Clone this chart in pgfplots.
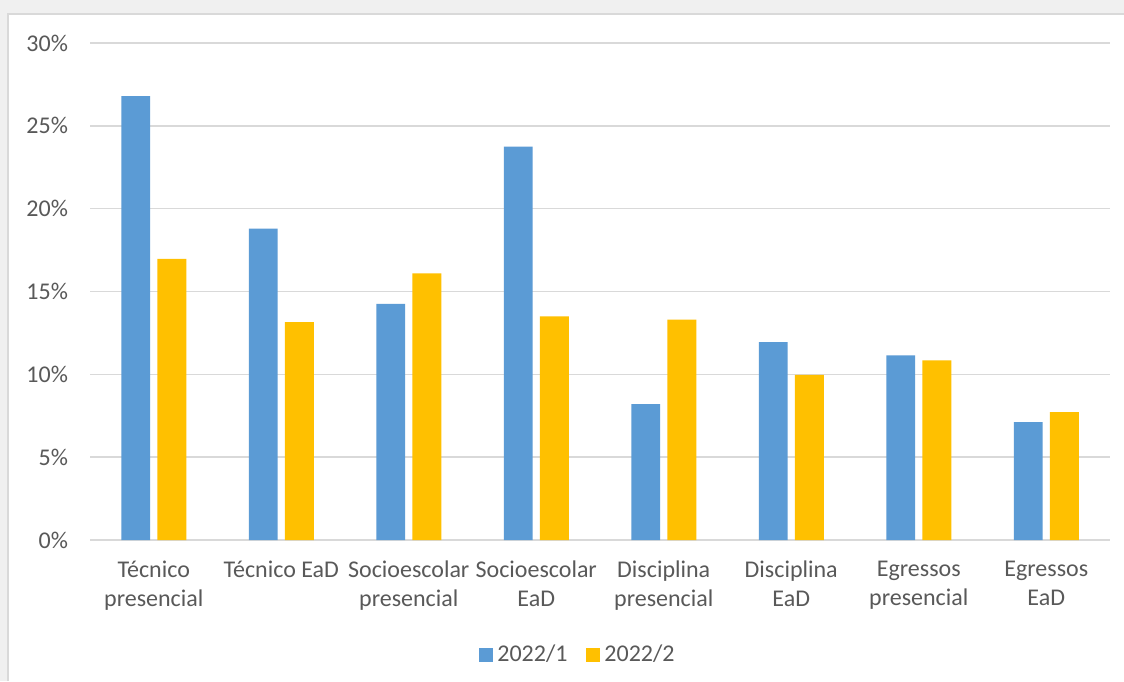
\documentclass[border=0pt]{standalone}
\usepackage{fontspec}
\setmainfont{Carlito}
\usepackage{pgfplots}
\pgfplotsset{compat=1.18}
\definecolor{bblue}{HTML}{5B9BD5}
\definecolor{byel}{HTML}{FFC000}
\definecolor{txt}{HTML}{595959}
\definecolor{gridc}{HTML}{D9D9D9}
\definecolor{bg}{HTML}{F0F0F0}
\begin{document}
\begin{tikzpicture}[x=1pt,y=1pt]
\useasboundingbox (0,0) rectangle (562,340.5);
\fill[bg] (0,0) rectangle (562,340.5);
\fill[white] (4,0) rectangle (562,333.5);
\draw[gridc, line width=0.6pt] (4,0) -- (4,333.5) -- (562,333.5);
\begin{axis}[
  at={(45pt,70.5pt)}, anchor=south west,
  width=510pt, height=248.5pt, scale only axis,
  xmin=-0.5, xmax=7.5, ymin=0, ymax=30,
  ybar=3.7pt, bar width=14.4pt,
  axis line style={draw=none},
  major tick length=0pt,
  ymajorgrids, major grid style={gridc, line width=0.8pt},
  ytick={0,5,...,30},
  yticklabel={\pgfmathprintnumber{\tick}\%},
  /pgf/number format/assume math mode=true,
  yticklabel style={text=txt, font=\fontsize{12}{14.5}\selectfont, xshift=-7.5pt},
  xtick={0,...,7},
  xticklabels={{Técnico\\presencial},{Técnico EaD},{Socioescolar\\presencial},{Socioescolar\\EaD},{Disciplina\\presencial},{Disciplina\\EaD},{Egressos\\presencial},{Egressos\\EaD}},
  xticklabel style={align=center, text=txt, font=\fontsize{12}{14.5}\selectfont, yshift=-7pt},
  legend style={at={(0.4794,-0.2304)}, anchor=center, draw=none, fill=none,
    legend columns=2, font=\fontsize{12}{14.5}\selectfont, text=txt,
    /tikz/every even column/.append style={column sep=7.5pt},
    /tikz/every odd column/.append style={column sep=0pt}},
]
\addplot[fill=bblue, draw=none, legend image code/.code={\fill[bblue] (0pt,-3.5pt) rectangle (7pt,3.5pt);}] coordinates {
(0,26.8) (1,18.8) (2,14.25) (3,23.75) (4,8.2) (5,11.95) (6,11.15) (7,7.12)};
\addplot[fill=byel, draw=none, legend image code/.code={\fill[byel] (0pt,-3.5pt) rectangle (7pt,3.5pt);}] coordinates {
(0,16.97) (1,13.15) (2,16.1) (3,13.5) (4,13.3) (5,9.97) (6,10.85) (7,7.72)};
\legend{2022/1, 2022/2}
\end{axis}
\end{tikzpicture}
\end{document}
